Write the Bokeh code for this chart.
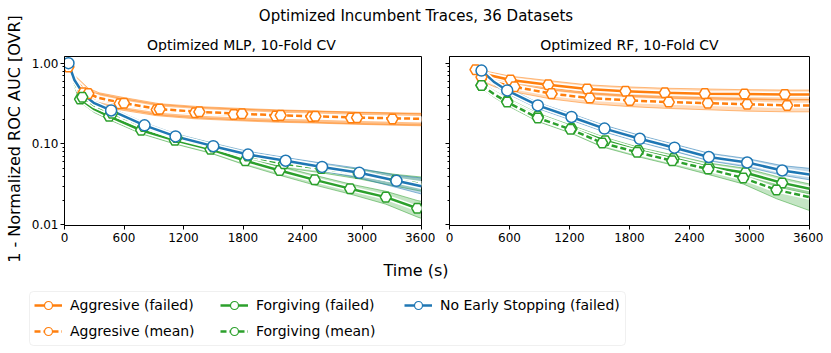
import math
from bokeh.plotting import figure
from bokeh.layouts import row, column
from bokeh.models import (Range1d, FixedTicker, PrintfTickFormatter, CustomJSTickFormatter,
                          Legend, LegendItem, BoxAnnotation)
from bokeh.core.properties import value
from bokeh.embed import file_html
from bokeh.resources import INLINE

FONT = "DejaVu Sans"
ORANGE = "#ff7f0e"
GREEN = "#2ca02c"
BLUE = "#1f77b4"

suptitle = "Optimized Incumbent Traces, 36 Datasets"
panel_titles = ["Optimized MLP, 10-Fold CV", "Optimized RF, 10-Fold CV"]
y_label = "1 - Normalized ROC AUC [OVR]"
x_label = "Time (s)"
x_ticks = [0, 600, 1200, 1800, 2400, 3000, 3600]
y_ticks = [0.01, 0.1, 1.0]
y_minor = [0.02, 0.03, 0.04, 0.05, 0.06, 0.07, 0.08, 0.09,
           0.2, 0.3, 0.4, 0.5, 0.6, 0.7, 0.8, 0.9]
series_names = ["Aggresive (failed)", "Aggresive (mean)", "Forgiving (failed)",
                "Forgiving (mean)", "No Early Stopping (failed)"]

# ---------------- MLP panel ----------------
mlp_agg_fail_t = [40, 100, 190, 300, 557, 930, 1317, 1707, 2130, 2490, 2890, 3307, 3600]
mlp_agg_fail_v = [0.90, 0.60, 0.43, 0.37, 0.315, 0.266, 0.244, 0.232, 0.222, 0.218, 0.210, 0.204, 0.200]
mlp_agg_fail_lo = [0.80, 0.52, 0.37, 0.31, 0.265, 0.224, 0.205, 0.195, 0.186, 0.182, 0.176, 0.171, 0.168]
mlp_agg_fail_hi = [1.00, 0.68, 0.50, 0.43, 0.37, 0.31, 0.285, 0.272, 0.26, 0.255, 0.247, 0.24, 0.236]
mlp_agg_fail_mk = [0, 2, 4, 5, 6, 7, 8, 9, 10, 11]

mlp_agg_mean_t = [40, 100, 240, 350, 600, 960, 1360, 1790, 2180, 2530, 2950, 3600]
mlp_agg_mean_v = [0.88, 0.62, 0.42, 0.37, 0.32, 0.27, 0.25, 0.236, 0.226, 0.22, 0.212, 0.205]
mlp_agg_mean_lo = [0.78, 0.53, 0.36, 0.31, 0.27, 0.228, 0.21, 0.198, 0.19, 0.185, 0.178, 0.172]
mlp_agg_mean_hi = [0.98, 0.71, 0.49, 0.43, 0.375, 0.315, 0.29, 0.275, 0.264, 0.257, 0.248, 0.24]
mlp_agg_mean_mk = [2, 4, 5, 6, 7, 8, 9, 10]

mlp_for_fail_t = [40, 100, 157, 300, 450, 773, 1113, 1473, 1823, 2170, 2523, 2880, 3240, 3557, 3600]
mlp_for_fail_v = [0.95, 0.55, 0.36, 0.27, 0.22, 0.148, 0.111, 0.086, 0.062, 0.047, 0.036, 0.028, 0.022, 0.016, 0.0155]
mlp_for_fail_lo = [0.88, 0.50, 0.33, 0.245, 0.20, 0.134, 0.10, 0.077, 0.055, 0.041, 0.031, 0.024, 0.018, 0.0125, 0.012]
mlp_for_fail_hi = [1.02, 0.60, 0.39, 0.295, 0.24, 0.162, 0.122, 0.095, 0.069, 0.053, 0.041, 0.032, 0.026, 0.020, 0.0195]
mlp_for_fail_mk = [2, 4, 5, 6, 7, 8, 9, 10, 11, 12, 13]

mlp_for_mean_t = [40, 100, 180, 300, 480, 800, 1130, 1500, 1850, 2213, 2590, 2967, 3340, 3600]
mlp_for_mean_v = [0.95, 0.58, 0.38, 0.30, 0.24, 0.165, 0.12, 0.092, 0.071, 0.057, 0.0497, 0.043, 0.0356, 0.032]
mlp_for_mean_lo = [0.88, 0.53, 0.35, 0.27, 0.22, 0.15, 0.109, 0.083, 0.064, 0.051, 0.044, 0.037, 0.030, 0.026]
mlp_for_mean_hi = [1.02, 0.63, 0.41, 0.33, 0.26, 0.18, 0.131, 0.101, 0.078, 0.063, 0.055, 0.049, 0.042, 0.039]
mlp_for_mean_mk = [2, 4, 5, 6, 7, 8, 9, 10, 11, 12]

mlp_nes_t = [40, 100, 200, 300, 470, 807, 1120, 1500, 1850, 2230, 2597, 2973, 3347, 3600]
mlp_nes_v = [1.0, 0.62, 0.40, 0.32, 0.26, 0.17, 0.124, 0.094, 0.074, 0.062, 0.052, 0.044, 0.035, 0.030]
mlp_nes_lo = [0.93, 0.57, 0.37, 0.295, 0.24, 0.157, 0.114, 0.086, 0.068, 0.056, 0.046, 0.038, 0.029, 0.024]
mlp_nes_hi = [1.07, 0.67, 0.43, 0.345, 0.28, 0.183, 0.134, 0.102, 0.081, 0.068, 0.058, 0.050, 0.041, 0.038]
mlp_nes_mk = [0, 4, 5, 6, 7, 8, 9, 10, 11, 12]

# ---------------- RF panel ----------------
rf_agg_fail_t = [260, 400, 610, 987, 1377, 1760, 2153, 2553, 2950, 3353, 3600]
rf_agg_fail_v = [0.83, 0.71, 0.62, 0.54, 0.48, 0.45, 0.43, 0.42, 0.415, 0.41, 0.41]
rf_agg_fail_lo = [0.76, 0.64, 0.55, 0.47, 0.42, 0.39, 0.37, 0.36, 0.355, 0.35, 0.35]
rf_agg_fail_hi = [0.90, 0.78, 0.69, 0.61, 0.54, 0.51, 0.49, 0.48, 0.47, 0.465, 0.465]
rf_agg_fail_mk = [0, 2, 3, 4, 5, 6, 7, 8, 9]

rf_agg_mean_t = [320, 450, 650, 1020, 1403, 1803, 2193, 2583, 2977, 3377, 3600]
rf_agg_mean_v = [0.67, 0.58, 0.51, 0.42, 0.37, 0.346, 0.33, 0.32, 0.31, 0.30, 0.30]
rf_agg_mean_lo = [0.60, 0.51, 0.44, 0.36, 0.315, 0.29, 0.275, 0.265, 0.255, 0.25, 0.25]
rf_agg_mean_hi = [0.74, 0.65, 0.58, 0.49, 0.43, 0.40, 0.385, 0.375, 0.365, 0.355, 0.355]
rf_agg_mean_mk = [0, 2, 3, 4, 5, 6, 7, 8, 9]

rf_for_fail_t = [320, 450, 577, 883, 1220, 1557, 1890, 2240, 2593, 2960, 3327, 3600]
rf_for_fail_v = [0.53, 0.42, 0.34, 0.22, 0.155, 0.11, 0.083, 0.066, 0.052, 0.044, 0.033, 0.028]
rf_for_fail_lo = [0.49, 0.385, 0.31, 0.20, 0.141, 0.10, 0.075, 0.059, 0.046, 0.038, 0.028, 0.024]
rf_for_fail_hi = [0.57, 0.455, 0.37, 0.24, 0.17, 0.12, 0.091, 0.073, 0.058, 0.05, 0.038, 0.032]
rf_for_fail_mk = [0, 2, 3, 4, 5, 6, 7, 8, 9, 10]

rf_for_mean_t = [320, 450, 577, 883, 1210, 1527, 1877, 2227, 2587, 2937, 3270, 3600]
rf_for_mean_v = [0.53, 0.41, 0.33, 0.21, 0.152, 0.103, 0.079, 0.062, 0.049, 0.038, 0.027, 0.022]
rf_for_mean_lo = [0.49, 0.375, 0.30, 0.19, 0.137, 0.092, 0.07, 0.055, 0.042, 0.032, 0.021, 0.015]
rf_for_mean_hi = [0.57, 0.445, 0.36, 0.23, 0.167, 0.113, 0.087, 0.069, 0.055, 0.044, 0.032, 0.028]
rf_for_mean_mk = [0, 2, 3, 4, 5, 6, 7, 8, 9, 10]

rf_nes_t = [320, 450, 577, 883, 1220, 1550, 1903, 2250, 2593, 2977, 3327, 3600]
rf_nes_v = [0.81, 0.58, 0.46, 0.30, 0.216, 0.155, 0.116, 0.090, 0.069, 0.059, 0.047, 0.042]
rf_nes_lo = [0.75, 0.53, 0.42, 0.275, 0.197, 0.141, 0.105, 0.081, 0.062, 0.052, 0.041, 0.036]
rf_nes_hi = [0.87, 0.63, 0.50, 0.325, 0.236, 0.17, 0.128, 0.099, 0.077, 0.066, 0.054, 0.050]
rf_nes_mk = [0, 2, 3, 4, 5, 6, 7, 8, 9, 10]

styles = [(ORANGE, "solid", "hex"), (ORANGE, "6 3", "hex"), (GREEN, "solid", "hex"),
          (GREEN, "6 3", "hex"), (BLUE, "solid", "circle")]

mlp_series = [
    (mlp_agg_fail_t, mlp_agg_fail_v, mlp_agg_fail_lo, mlp_agg_fail_hi, mlp_agg_fail_mk),
    (mlp_agg_mean_t, mlp_agg_mean_v, mlp_agg_mean_lo, mlp_agg_mean_hi, mlp_agg_mean_mk),
    (mlp_for_fail_t, mlp_for_fail_v, mlp_for_fail_lo, mlp_for_fail_hi, mlp_for_fail_mk),
    (mlp_for_mean_t, mlp_for_mean_v, mlp_for_mean_lo, mlp_for_mean_hi, mlp_for_mean_mk),
    (mlp_nes_t, mlp_nes_v, mlp_nes_lo, mlp_nes_hi, mlp_nes_mk),
]
rf_series = [
    (rf_agg_fail_t, rf_agg_fail_v, rf_agg_fail_lo, rf_agg_fail_hi, rf_agg_fail_mk),
    (rf_agg_mean_t, rf_agg_mean_v, rf_agg_mean_lo, rf_agg_mean_hi, rf_agg_mean_mk),
    (rf_for_fail_t, rf_for_fail_v, rf_for_fail_lo, rf_for_fail_hi, rf_for_fail_mk),
    (rf_for_mean_t, rf_for_mean_v, rf_for_mean_lo, rf_for_mean_hi, rf_for_mean_mk),
    (rf_nes_t, rf_nes_v, rf_nes_lo, rf_nes_hi, rf_nes_mk),
]

# ---------------- layout geometry (screen px; Bokeh page has no body margin) ----------------
LAB_W = 28
COL_X0 = LAB_W
COL_W = 802
HEAD_H = 52
PANEL_H = 196
FOOT_H = 104
P1_W, P2_W = 407, 388
P1_BL, P_BR, P2_BL = 33, 14, 14
HEAD_Y0 = 0
PANEL_Y0 = HEAD_Y0 + HEAD_H
FOOT_Y0 = PANEL_Y0 + PANEL_H
FOOT_Y1 = FOOT_Y0 + FOOT_H
FIG_CX = 415.5


def blank(width, height, x0, x1, y0, y1):
    f = figure(width=width, height=height, x_range=Range1d(x0, x1), y_range=Range1d(y1, y0),
               output_backend="svg", toolbar_location=None, min_border=0,
               x_axis_location=None, y_axis_location=None)
    f.grid.visible = False
    f.outline_line_color = None
    f.background_fill_color = "white"
    return f


def make_panel(width, border_left, show_labels):
    p = figure(width=width, height=PANEL_H, x_range=Range1d(0, 3600), y_range=Range1d(0.0098, 1.21),
               y_axis_type="log", output_backend="svg", toolbar_location=None,
               min_border_left=border_left, min_border_right=P_BR, min_border_top=4, min_border_bottom=23)
    p.grid.visible = False
    p.outline_line_color = "black"
    p.outline_line_width = 1
    p.xaxis.ticker = FixedTicker(ticks=x_ticks)
    p.yaxis.ticker = FixedTicker(ticks=y_ticks, minor_ticks=y_minor)
    p.yaxis.formatter = PrintfTickFormatter(format="%.2f")
    for ax in (p.xaxis[0], p.yaxis[0]):
        ax.axis_line_color = "black"
        ax.major_tick_line_color = "black"
        ax.minor_tick_line_color = "black"
        ax.major_tick_out = 4
        ax.major_tick_in = 0
        ax.minor_tick_out = 2
        ax.minor_tick_in = 0
        ax.major_label_text_font = FONT
        ax.major_label_text_font_size = "12px"
        ax.major_label_text_color = "black"
    p.xaxis.minor_tick_line_color = None
    p.xaxis.major_label_standoff = 3
    p.yaxis.major_label_standoff = 2
    if not show_labels:
        p.yaxis.formatter = CustomJSTickFormatter(code="return ''")
    return p


def draw(p, series):
    for (t, v, lo, hi, mk), (c, dash, marker) in zip(series, styles):
        p.varea(x=t, y1=lo, y2=hi, fill_color=c, fill_alpha=0.28)
        p.line(t, lo, line_color=c, line_alpha=0.5, line_width=1)
        p.line(t, hi, line_color=c, line_alpha=0.5, line_width=1)
    for (t, v, lo, hi, mk), (c, dash, marker) in zip(series, styles):
        p.line(t, v, line_color="white", line_width=5.5)
        p.line(t, v, line_color=c, line_width=2.5, line_dash=dash)
    for (t, v, lo, hi, mk), (c, dash, marker) in zip(series, styles):
        p.scatter([t[i] for i in mk], [v[i] for i in mk], marker=marker, size=11,
                  fill_color="white", line_color=c, line_width=1.5)


p1 = make_panel(P1_W, P1_BL, True)
p2 = make_panel(P2_W, P2_BL, False)
draw(p1, mlp_series)
draw(p2, rf_series)

# frames in screen coordinates
f1_x0 = COL_X0 + P1_BL
f1_x1 = COL_X0 + P1_W - P_BR
f2_x0 = COL_X0 + P1_W + P2_BL
f2_x1 = COL_X0 + P1_W + P2_W - P_BR

# ---------------- header (titles) ----------------
head = blank(COL_W, HEAD_H, COL_X0, COL_X0 + COL_W, HEAD_Y0, PANEL_Y0)
head.text(x=[FIG_CX], y=[15], text=[suptitle], text_font=value(FONT), text_font_size="15px",
          text_align="center", text_baseline="middle", text_color="black")
head.text(x=[(f1_x0 + f1_x1) / 2, (f2_x0 + f2_x1) / 2], y=[44, 44], text=panel_titles,
          text_font=value(FONT), text_font_size="14px", text_align="center",
          text_baseline="middle", text_color="black")

# ---------------- y label column ----------------
lab = blank(LAB_W, HEAD_H + PANEL_H + FOOT_H, 0, LAB_W, HEAD_Y0, FOOT_Y1)
lab.text(x=[14], y=[138.5], text=[y_label], angle=math.pi / 2, text_font=value(FONT),
         text_font_size="16px", text_align="center", text_baseline="middle", text_color="black")

# ---------------- footer (x label + legend) ----------------
foot = blank(COL_W, FOOT_H, COL_X0, COL_X0 + COL_W, FOOT_Y0, FOOT_Y1)
foot.text(x=[FIG_CX], y=[270], text=[x_label], text_font=value(FONT), text_font_size="16px",
          text_align="center", text_baseline="middle", text_color="black")

box = BoxAnnotation(left=29, right=625, top=291, bottom=345, fill_color="white", fill_alpha=1,
                    line_color="#cccccc", line_width=1, border_radius=4)
foot.add_layout(box)

NAN = float("nan")
items = []
for name, (c, dash, marker) in zip(series_names, styles):
    lr = foot.line(x=[NAN], y=[NAN], line_color=c, line_width=2.5, line_dash=dash)
    sr = foot.scatter(x=[NAN], y=[NAN], marker="circle", size=8, fill_color="white",
                      line_color=c, line_width=1.2)
    items.append(LegendItem(label=name, renderers=[lr, sr]))

col_x = [34, 220, 404]
groups = [items[0:2], items[2:4], items[4:5]]
for gx, grp in zip(col_x, groups):
    n = len(grp)
    h = n * 20 + (n - 1) * 6
    top = 295
    bottom_y = FOOT_Y1 - (top + h)
    lg = Legend(items=grp, location=(gx - COL_X0, bottom_y), orientation="vertical",
                glyph_width=28, glyph_height=20, label_height=20, label_standoff=8, spacing=6,
                padding=0, margin=0, border_line_color=None, background_fill_alpha=0,
                label_text_font=FONT, label_text_font_size="14px", label_text_color="black")
    foot.add_layout(lg)

layout = row(lab, column(head, row(p1, p2), foot))

open("out.html", "w").write(file_html(layout, INLINE))
